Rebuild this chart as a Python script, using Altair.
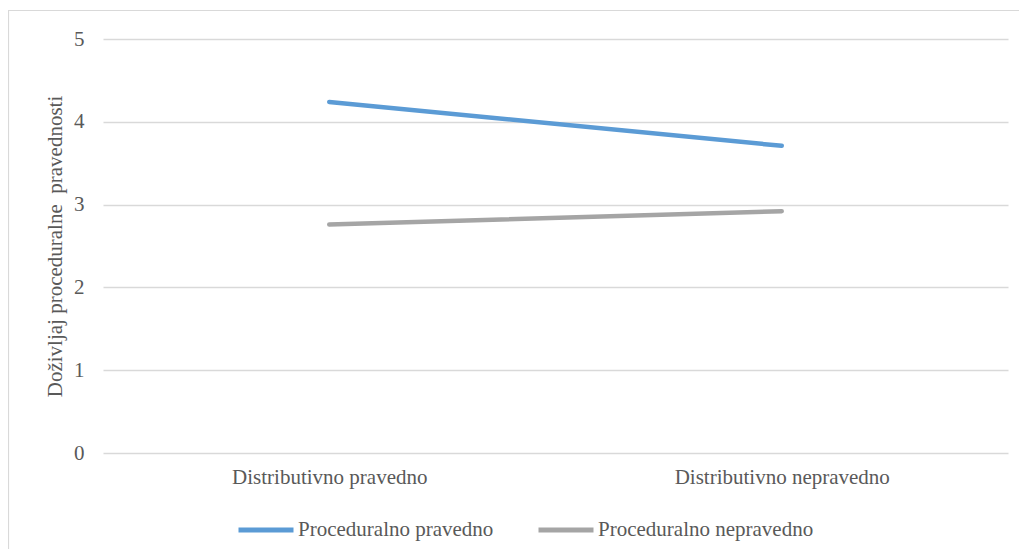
import altair as alt
import pandas as pd

categories = ["Distributivno pravedno", "Distributivno nepravedno"]
series_names = ["Proceduralno pravedno", "Proceduralno nepravedno"]
pravedno_values = [4.24, 3.71]
nepravedno_values = [2.76, 2.92]
y_ticks = [0, 1, 2, 3, 4, 5]
colors = ["#5B9BD5", "#A5A5A5"]

rows = []
for c, v in zip(categories, pravedno_values):
    rows.append({"kat": c, "serija": series_names[0], "vrijednost": v})
for c, v in zip(categories, nepravedno_values):
    rows.append({"kat": c, "serija": series_names[1], "vrijednost": v})
df = pd.DataFrame(rows)

FONT = "Liberation Serif"
TXT = "#595959"
W, H = 905, 414

lines = alt.Chart(df).mark_line(strokeWidth=4.5, strokeCap="round").encode(
    x=alt.X("kat:N", sort=categories,
            scale=alt.Scale(type="point", padding=0.5),
            axis=alt.Axis(title=None, labelAngle=0, ticks=False, tickSize=0, domain=False,
                          grid=False, labelPadding=13, labelFont=FONT, labelFontSize=21,
                          labelColor=TXT, labelLimit=0)),
    y=alt.Y("vrijednost:Q", scale=alt.Scale(domain=[0, 5], nice=False),
            axis=alt.Axis(values=y_ticks, title="Doživljaj proceduralne \u00a0pravednosti",
                          ticks=False, tickSize=0, domain=False, grid=True,
                          gridColor="#D9D9D9", gridWidth=1.3,
                          labelPadding=19, labelFont=FONT, labelFontSize=21, labelColor=TXT,
                          titleFont=FONT, titleFontSize=21, titleFontWeight="normal",
                          titleColor=TXT, titleAngle=270, titleX=-48, titleY=H / 2,
                          titleAlign="center", titleBaseline="middle", titleLimit=0)),
    color=alt.Color("serija:N", sort=series_names,
                    scale=alt.Scale(domain=series_names, range=colors),
                    legend=alt.Legend(title=None, orient="none", direction="horizontal",
                                      legendX=133, legendY=461, symbolType="stroke",
                                      symbolSize=3025, symbolStrokeWidth=5,
                                      labelFont=FONT, labelFontSize=21, labelColor=TXT,
                                      labelOffset=2, columnPadding=34, padding=0,
                                      labelLimit=0)),
)

border = alt.Chart(alt.Data(values=[{"b": 1}])).mark_rect(
    fill=None, stroke="#D9D9D9", strokeWidth=1.2
).encode(
    x=alt.value(-94.5), x2=alt.value(1200), y=alt.value(-28.5), y2=alt.value(700)
)

chart = alt.layer(border, lines).properties(
    width=W, height=H,
    background="white",
    autosize=alt.AutoSizeParams(type="none"),
    padding={"left": 95, "top": 31, "right": 11, "bottom": 96},
).configure_view(strokeWidth=0, stroke=None)

chart.save("out.html", embed_options={"renderer": "svg", "actions": False})
